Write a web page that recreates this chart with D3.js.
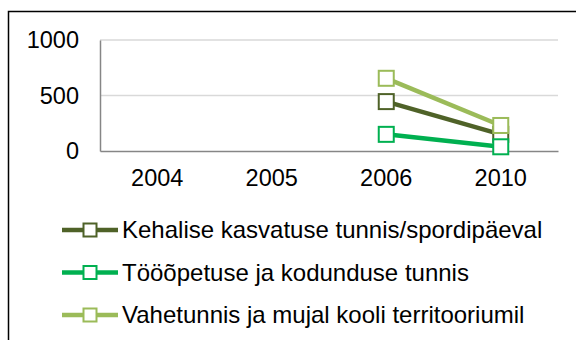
<!DOCTYPE html>
<html>
<head>
<meta charset="utf-8">
<script src="https://cdn.jsdelivr.net/npm/d3@7"></script>
<style>
  html, body { margin: 0; padding: 0; background: #fff; }
  svg { display: block; font-family: "Liberation Sans", Arial, sans-serif; }
</style>
</head>
<body>
<svg id="chart" width="576" height="340"></svg>
<script>
// Categories (years) and series values
const years = ["2004", "2005", "2006", "2010"];
const seriesNames = [
  "Kehalise kasvatuse tunnis/spordipäeval",
  "Tööõpetuse ja kodunduse tunnis",
  "Vahetunnis ja mujal kooli territooriumil"
];
const kehalise = [null, null, 445, 150];
const tooopetus = [null, null, 150, 38];
const vahetund = [null, null, 655, 230];
const yTicks = [0, 500, 1000];
const seriesColors = ["#4F6228", "#00B050", "#9BBB59"];

const series = [kehalise, tooopetus, vahetund].map((vals, i) => ({
  name: seriesNames[i],
  color: seriesColors[i],
  points: vals.map((v, j) => ({ year: years[j], value: v }))
}));

const svg = d3.select("#chart");
const plot = { left: 100, right: 558, top: 40, bottom: 151 };

const x = d3.scaleBand().domain(years).range([plot.left, plot.right]);
const y = d3.scaleLinear().domain([0, 1000]).range([plot.bottom, plot.top]);

// Outer chart border (right and bottom edges fall outside the view)
svg.append("rect")
  .attr("x", 8.5).attr("y", 11.5)
  .attr("width", 700).attr("height", 500)
  .attr("fill", "none").attr("stroke", "#000").attr("stroke-width", 1.5);

// Horizontal gridlines
svg.append("g")
  .selectAll("line")
  .data(yTicks.filter(t => t > 0))
  .join("line")
  .attr("x1", plot.left).attr("x2", plot.right)
  .attr("y1", d => y(d)).attr("y2", d => y(d))
  .attr("stroke", "#D9D9D9").attr("stroke-width", 1.5);

// Y axis
const yAxis = svg.append("g")
  .attr("transform", `translate(${plot.left},0)`)
  .call(d3.axisLeft(y).tickValues(yTicks).tickFormat(d3.format("d")).tickSize(0).tickPadding(21));
yAxis.select(".domain").attr("stroke", "#868686").attr("stroke-width", 1.5);
yAxis.selectAll("text")
  .attr("font-size", 23.5).attr("fill", "#000")
  .attr("font-family", "Liberation Sans, Arial, sans-serif");

// X axis
const xAxis = svg.append("g")
  .attr("transform", `translate(0,${plot.bottom})`)
  .call(d3.axisBottom(x).tickSize(0).tickPadding(18));
xAxis.select(".domain").attr("stroke", "#868686").attr("stroke-width", 1.5);
xAxis.selectAll("text")
  .attr("font-size", 23.5).attr("fill", "#000")
  .attr("font-family", "Liberation Sans, Arial, sans-serif");

const cx = d => x(d.year) + x.bandwidth() / 2;
const line = d3.line()
  .defined(d => d.value !== null)
  .x(cx)
  .y(d => y(d.value));

const markerSize = 15;

// Lines and square markers for each series
series.forEach(s => {
  const g = svg.append("g");
  g.append("path")
    .datum(s.points)
    .attr("d", line)
    .attr("fill", "none")
    .attr("stroke", s.color)
    .attr("stroke-width", 4.5);
  g.selectAll("rect")
    .data(s.points.filter(p => p.value !== null))
    .join("rect")
    .attr("x", d => cx(d) - markerSize / 2)
    .attr("y", d => y(d.value) - markerSize / 2)
    .attr("width", markerSize).attr("height", markerSize)
    .attr("fill", "#fff")
    .attr("stroke", s.color)
    .attr("stroke-width", 2);
});

// Legend
const legendRowY = d3.scalePoint().domain(seriesNames).range([230, 315]);
const legend = svg.append("g")
  .selectAll("g")
  .data(series)
  .join("g")
  .attr("transform", d => `translate(0,${legendRowY(d.name)})`);
legend.append("line")
  .attr("x1", 62).attr("x2", 118)
  .attr("y1", 0).attr("y2", 0)
  .attr("stroke", d => d.color).attr("stroke-width", 4.5);
legend.append("rect")
  .attr("x", 90 - 13 / 2).attr("y", -13 / 2)
  .attr("width", 13).attr("height", 13)
  .attr("fill", "#fff")
  .attr("stroke", d => d.color).attr("stroke-width", 2);
legend.append("text")
  .attr("x", 122).attr("y", 8)
  .attr("font-size", 24)
  .attr("fill", "#000")
  .text(d => d.name);
</script>
</body>
</html>
